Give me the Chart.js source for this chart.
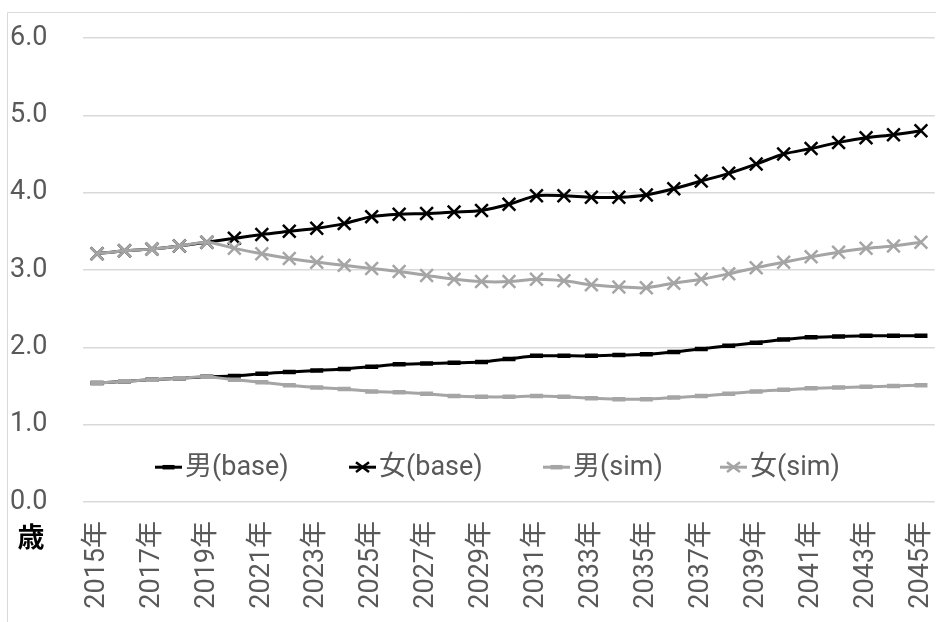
<!DOCTYPE html>
<html>
<head>
<meta charset="utf-8">
<script src="https://cdn.jsdelivr.net/npm/chart.js@4.4.1/dist/chart.umd.min.js"></script>
<style>
  html, body { margin: 0; padding: 0; background: #fff; }
  #wrap { width: 936px; height: 622px; position: relative; }
</style>
</head>
<body>
<div id="wrap"><canvas id="c" width="936" height="622"></canvas></div>
<script>
const years = ['2015年','2016年','2017年','2018年','2019年','2020年','2021年','2022年','2023年','2024年',
  '2025年','2026年','2027年','2028年','2029年','2030年','2031年','2032年','2033年','2034年',
  '2035年','2036年','2037年','2038年','2039年','2040年','2041年','2042年','2043年','2044年','2045年'];

const maleBase = [1.54,1.56,1.58,1.60,1.62, 1.63,1.66,1.68,1.70,1.72, 1.75,1.78,1.79,1.80,1.81,
  1.85,1.89,1.89,1.89,1.90, 1.91,1.94,1.98,2.02,2.06, 2.10,2.13,2.14,2.15,2.15, 2.15];
const femaleBase = [3.21,3.25,3.27,3.31,3.36, 3.41,3.46,3.50,3.54,3.60, 3.69,3.72,3.73,3.75,3.77,
  3.85,3.96,3.96,3.94,3.94, 3.97,4.05,4.15,4.25,4.37, 4.50,4.57,4.65,4.71,4.75, 4.80];
const maleSim = [1.54,1.56,1.58,1.60,1.62, 1.58,1.55,1.51,1.48,1.46, 1.43,1.42,1.40,1.37,1.36,
  1.36,1.37,1.36,1.34,1.33, 1.33,1.35,1.37,1.40,1.43, 1.45,1.47,1.48,1.49,1.50, 1.51];
const femaleSim = [3.21,3.25,3.27,3.31,3.36, 3.28,3.21,3.15,3.10,3.06, 3.02,2.98,2.93,2.88,2.85,
  2.85,2.88,2.86,2.81,2.78, 2.77,2.83,2.88,2.95,3.03, 3.10,3.17,3.23,3.28,3.31, 3.36];

const seriesNames = ['男(base)', '女(base)', '男(sim)', '女(sim)'];
const yTicks = [0, 1, 2, 3, 4, 5, 6];
const unitLabel = '歳';

const BLACK = '#000000';
const GRAY = '#a5a5a5';
const TEXT = '#595959';
const GRID = '#d9d9d9';
const FONT = 'Roboto, "Noto Sans CJK JP", sans-serif';

function lineSet(label, data, color, marker, order) {
  const isDash = marker === 'line';
  return {
    label, data, order,
    borderColor: color,
    backgroundColor: color,
    borderWidth: 3,
    tension: 0.25,
    pointStyle: marker,
    pointRadius: isDash ? 6.5 : 9,
    pointHoverRadius: isDash ? 6.5 : 9,
    pointBorderWidth: isDash ? 4.5 : 2.5,
    pointBorderColor: color,
    pointBackgroundColor: color
  };
}

// frame around the whole chart
const framePlugin = {
  id: 'frame',
  beforeDraw(chart) {
    const ctx = chart.ctx;
    ctx.save();
    ctx.strokeStyle = GRID;
    ctx.lineWidth = 1;
    ctx.beginPath();
    ctx.moveTo(7.5, 622);
    ctx.lineTo(7.5, 12.5);
    ctx.lineTo(936, 12.5);
    ctx.stroke();
    ctx.restore();
  }
};

// legend drawn inside the plot area, plus the unit label under the value axis
const insideLegend = {
  id: 'insideLegend',
  afterDatasetsDraw(chart) {
    const ctx = chart.ctx;
    const ys = chart.scales.y;
    const xs = chart.scales.x;
    const legendY = ys.getPixelForValue(0.45);
    const starts = [155, 349, 543, 720];
    ctx.save();
    chart.data.datasets.forEach((ds, i) => {
      const x0 = starts[i];
      const x1 = x0 + 27;
      ctx.strokeStyle = ds.borderColor;
      ctx.lineWidth = 3;
      ctx.beginPath();
      ctx.moveTo(x0, legendY);
      ctx.lineTo(x1, legendY);
      ctx.stroke();
      const cx = (x0 + x1) / 2;
      if (ds.pointStyle === 'line') {
        ctx.lineWidth = 4.5;
        ctx.beginPath();
        ctx.moveTo(cx - 6, legendY);
        ctx.lineTo(cx + 6, legendY);
        ctx.stroke();
      } else {
        ctx.lineWidth = 2.5;
        const r = 6.5;
        ctx.beginPath();
        ctx.moveTo(cx - r, legendY - r * 0.75);
        ctx.lineTo(cx + r, legendY + r * 0.75);
        ctx.moveTo(cx + r, legendY - r * 0.75);
        ctx.lineTo(cx - r, legendY + r * 0.75);
        ctx.stroke();
      }
      ctx.fillStyle = TEXT;
      ctx.font = '27px ' + FONT;
      ctx.textAlign = 'left';
      ctx.textBaseline = 'middle';
      ctx.fillText(ds.label, x1 + 3, legendY + 1);
    });
    ctx.fillStyle = '#000';
    ctx.font = 'bold 27px ' + FONT;
    ctx.textAlign = 'center';
    ctx.textBaseline = 'middle';
    ctx.fillText(unitLabel, 31, xs.top + 38);
    ctx.restore();
  }
};

new Chart(document.getElementById('c'), {
  type: 'line',
  data: {
    labels: years,
    datasets: [
      lineSet(seriesNames[0], maleBase, BLACK, 'line', 3),
      lineSet(seriesNames[1], femaleBase, BLACK, 'crossRot', 2),
      lineSet(seriesNames[2], maleSim, GRAY, 'line', 1),
      lineSet(seriesNames[3], femaleSim, GRAY, 'crossRot', 0)
    ]
  },
  options: {
    responsive: false,
    animation: false,
    layout: { autoPadding: false, padding: { left: 10, top: 38, right: 1.3, bottom: 0 } },
    plugins: {
      legend: { display: false },
      tooltip: { enabled: false }
    },
    scales: {
      x: {
        offset: true,
        grid: { display: false, drawTicks: false },
        border: { display: false },
        afterFit(scale) {
          scale.height = 120;
          scale.paddingLeft = 0;
          scale.paddingRight = 0;
        },
        ticks: {
          autoSkip: false,
          maxRotation: 90,
          minRotation: 90,
          padding: 19,
          color: TEXT,
          font: { family: FONT, size: 27 },
          callback(v, i) { return i % 2 === 0 ? years[i] : ''; }
        }
      },
      y: {
        min: yTicks[0],
        max: yTicks[yTicks.length - 1],
        afterBuildTicks(scale) { scale.ticks = yTicks.map(v => ({ value: v })); },
        afterFit(scale) {
          scale.width = 73.3;
          scale.paddingTop = 0;
          scale.paddingBottom = 0;
        },
        grid: { color: GRID, lineWidth: 1.5, drawTicks: false },
        border: { display: false },
        ticks: {
          crossAlign: 'far',
          padding: 0,
          color: TEXT,
          font: { family: FONT, size: 27 },
          callback(v) { return Number(v).toFixed(1); }
        }
      }
    }
  },
  plugins: [framePlugin, insideLegend]
});
</script>
</body>
</html>
